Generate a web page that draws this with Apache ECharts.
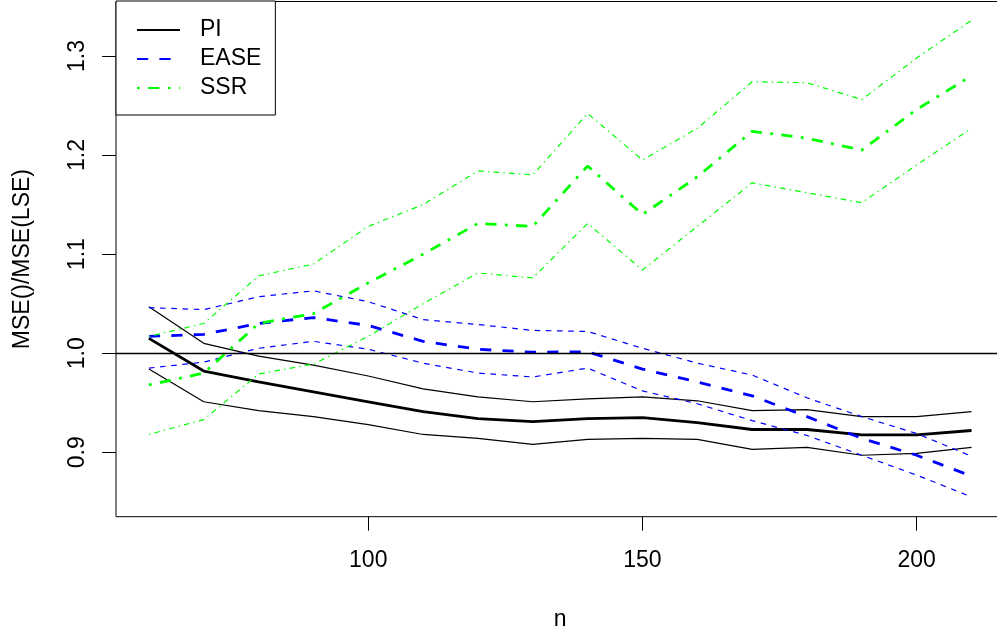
<!DOCTYPE html>
<html>
<head>
<meta charset="utf-8">
<script src="https://cdn.jsdelivr.net/npm/echarts@6/dist/echarts.min.js"></script>
<style>
html,body{margin:0;padding:0;background:#fff;}
#chart{width:997px;height:633px;}
</style>
</head>
<body>
<div id="chart"></div>
<script>
var n = [60,70,80,90,100,110,120,130,140,150,160,170,180,190,200,210];
var piMean  = [1.015,0.982,0.971,0.961,0.951,0.941,0.934,0.931,0.934,0.935,0.930,0.923,0.923,0.9175,0.9175,0.922];
var piUpper = [1.047,1.010,0.997,0.988,0.977,0.964,0.956,0.951,0.954,0.956,0.952,0.942,0.943,0.936,0.936,0.941];
var piLower = [0.984,0.951,0.942,0.936,0.928,0.918,0.914,0.908,0.913,0.914,0.913,0.903,0.905,0.897,0.899,0.905];
var easeMean  = [1.017,1.019,1.030,1.036,1.028,1.012,1.004,1.001,1.0015,0.984,0.971,0.957,0.936,0.914,0.897,0.876];
var easeUpper = [1.046,1.044,1.057,1.063,1.052,1.034,1.029,1.023,1.022,1.005,0.990,0.978,0.955,0.936,0.919,0.896];
var easeLower = [0.985,0.991,1.005,1.012,1.004,0.990,0.980,0.976,0.985,0.962,0.949,0.932,0.917,0.897,0.877,0.855];
var ssrMean  = [0.968,0.980,1.030,1.040,1.071,1.100,1.131,1.128,1.189,1.140,1.178,1.224,1.217,1.205,1.246,1.280];
var ssrUpper = [1.017,1.030,1.078,1.090,1.128,1.150,1.184,1.180,1.242,1.195,1.227,1.274,1.273,1.256,1.298,1.336];
var ssrLower = [0.918,0.933,0.979,0.989,1.017,1.050,1.081,1.076,1.131,1.084,1.128,1.172,1.162,1.152,1.190,1.227];
var xTicks = [100,150,200];
var yTicks = [0.9,1.0,1.1,1.2,1.3];
var legendNames = ['PI','EASE','SSR'];

function pairs(arr){ return n.map(function(x,i){ return [x, arr[i]]; }); }

var FONT = 'Liberation Sans, Arial, sans-serif';
var BLACK = '#000000', BLUE = '#0000FF', GREEN = '#00FF00';

function lineSeries(name, arr, color, width, dash, extra){
  var s = {
    name: name, type: 'line', data: pairs(arr), symbol: 'none', smooth: false,
    lineStyle: {color: color, width: width, type: dash, cap: 'butt'},
    itemStyle: {color: color},
    z: 3, silent: true
  };
  if (extra) for (var k in extra) s[k] = extra[k];
  return s;
}

var chart = echarts.init(document.getElementById('chart'), null, {renderer: 'canvas'});
chart.setOption({
  animation: false,
  backgroundColor: '#ffffff',
  textStyle: {fontFamily: FONT},
  grid: {left: 116, top: 1.5, width: 888.4, height: 515.2, containLabel: false, outerBoundsMode: 'none',
    show: true, borderColor: '#000', borderWidth: 1, backgroundColor: 'transparent'},
  xAxis: {
    type: 'value', min: 54, max: 216,
    name: 'n', nameLocation: 'middle', nameGap: 91,
    nameTextStyle: {fontSize: 23, color: '#000', fontFamily: FONT},
    axisLine: {show: false},
    axisTick: {show: true, inside: false, length: 14, lineStyle: {color: '#000', width: 1}, customValues: xTicks},
    axisLabel: {show: true, margin: 32, fontSize: 23, color: '#000', fontFamily: FONT, customValues: xTicks},
    splitLine: {show: false}
  },
  yAxis: {
    type: 'value', min: 0.835, max: 1.355,
    name: 'MSE()/MSE(LSE)', nameLocation: 'middle', nameGap: 82, nameRotate: 90,
    nameTextStyle: {fontSize: 23, color: '#000', fontFamily: FONT},
    axisLine: {show: false},
    axisTick: {show: true, inside: false, length: 14, lineStyle: {color: '#000', width: 1}, customValues: yTicks},
    axisLabel: {show: true, margin: 27, rotate: 90, fontSize: 23, color: '#000', fontFamily: FONT,
      customValues: yTicks, formatter: function(v){ return v.toFixed(1); }},
    splitLine: {show: false}
  },
  legend: {
    data: legendNames, orient: 'vertical', left: 116, top: 1,
    padding: [17, 14, 15, 20], itemGap: 5, itemWidth: 43, itemHeight: 14,
    borderColor: '#000', borderWidth: 1, backgroundColor: '#fff',
    itemStyle: {color: 'rgba(0,0,0,0)', borderWidth: 0, opacity: 0},
    textStyle: {fontSize: 23, color: '#000', fontFamily: FONT, lineHeight: 24, padding: [0,0,0,15]},
    selectedMode: false
  },
  series: [
    lineSeries('PI', piMean, BLACK, 2.8, 'solid', {
      markLine: {silent: true, symbol: ['none','none'], label: {show: false},
        lineStyle: {color: '#000', width: 1.3, type: 'solid'}, data: [{yAxis: 1}]}
    }),
    lineSeries('PI upper', piUpper, BLACK, 1.2, 'solid'),
    lineSeries('PI lower', piLower, BLACK, 1.2, 'solid'),
    lineSeries('EASE', easeMean, BLUE, 2.8, [11.2, 11.2]),
    lineSeries('EASE upper', easeUpper, BLUE, 1.2, [5.6, 5.6]),
    lineSeries('EASE lower', easeLower, BLUE, 1.2, [5.6, 5.6]),
    lineSeries('SSR', ssrMean, GREEN, 2.8, [2.8, 8.4, 11.2, 8.4]),
    lineSeries('SSR upper', ssrUpper, GREEN, 1.2, [1.4, 4.2, 5.6, 4.2]),
    lineSeries('SSR lower', ssrLower, GREEN, 1.2, [1.4, 4.2, 5.6, 4.2])
  ]
});
</script>
</body>
</html>
